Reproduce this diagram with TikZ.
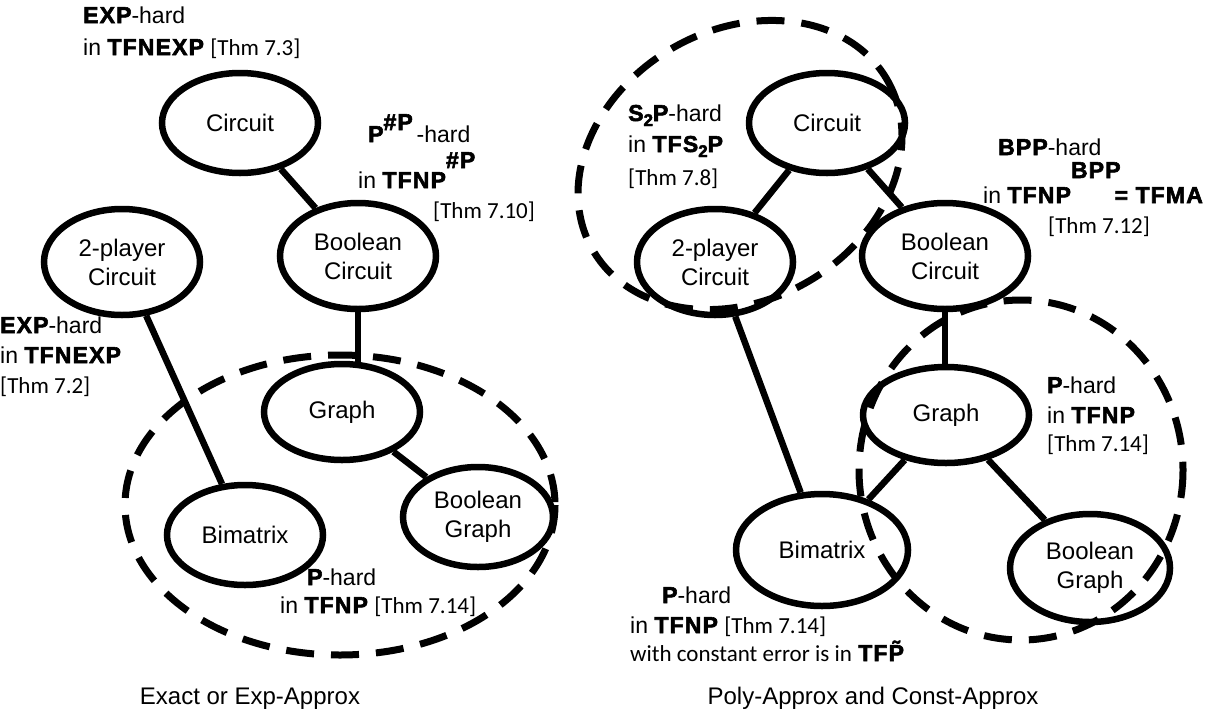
\documentclass[tikz,border=0pt]{standalone}
\usepackage{fontspec}
\setmainfont{Liberation Sans}
\newfontfamily\blk[FakeBold=2.5,LetterSpace=5]{Liberation Sans Bold}
\newfontfamily\thmf{Carlito}
\usetikzlibrary{shapes.geometric,backgrounds}
\newcommand\B[1]{{\blk #1}}
\newcommand\sbtwo{\raisebox{-5pt}{\fontsize{17}{17}\selectfont\blk 2}}
\tikzset{
 ell/.style={ellipse, draw, line width=6.5, fill=white, inner sep=0, align=center, font=\fontsize{24}{29}\selectfont},
 conn/.style={line width=6.5},
 dell/.style={line width=7, dash pattern=on 28 off 17},
 lab/.style={anchor=base west, inner sep=0, font=\fontsize{23}{29}\selectfont},
 captxt/.style={anchor=base, inner sep=0, font=\fontsize{24}{29}\selectfont},
}
\begin{document}
\begin{tikzpicture}[x=1pt,y=-1pt]
\useasboundingbox (0,0) rectangle (1230,715);
% left nodes
\node[ell, minimum width=156, minimum height=100] (lc) at (240,123) {Circuit};
\node[ell, minimum width=156, minimum height=106] (l2p) at (122,262) {2-player\\Circuit};
\node[ell, minimum width=156, minimum height=106] (lbc) at (358,256) {Boolean\\Circuit};
\node[ell, minimum width=156, minimum height=96] (lg) at (342,412) {Graph};
\node[ell, minimum width=156, minimum height=100] (lbm) at (245,535) {Bimatrix};
\node[ell, minimum width=150, minimum height=100] (lbg) at (478,517) {Boolean\\Graph};
% right nodes
\node[ell, minimum width=156, minimum height=100] (rc) at (827,123) {Circuit};
\node[ell, minimum width=156, minimum height=106] (r2p) at (715,262) {2-player\\Circuit};
\node[ell, minimum width=166, minimum height=106] (rbc) at (945,256) {Boolean\\Circuit};
\node[ell, minimum width=166, minimum height=96] (rg) at (946,415) {Graph};
\node[ell, minimum width=172, minimum height=112] (rbm) at (822,550) {Bimatrix};
\node[ell, minimum width=160, minimum height=108] (rbg) at (1090,568) {Boolean\\Graph};
% connectors
\begin{scope}[on background layer]
\draw[conn] (lc) -- (lbc);
\draw[conn] (lbc.center) -- (lbc.center |- lg.center);
\draw[conn] (l2p) -- (lbm);
\draw[conn] (lg) -- (lbg);
\draw[conn] (rc) -- (r2p);
\draw[conn] (rc) -- (rbc);
\draw[conn] (rbc.center) -- (rbc.center |- rg.center);
\draw[conn] (r2p) -- (rbm);
\draw[conn] (rg) -- (rbm);
\draw[conn] (rg) -- (rbg);
\end{scope}
% dashed groups
\draw[dell] (340,505) ellipse [x radius=215, y radius=150];
\draw[dell, rotate around={30:(740,165)}] (740,165) ellipse [x radius=170, y radius=135];
\draw[dell] (1021,470) ellipse [x radius=162, y radius=170];
% left labels
\node[lab] (t1) at (83,23) {\B{EXP}-hard};
\node[lab] (t2) at (83,55) {in \B{TFNEXP} {\thmf [Thm 7.3]}};
\node[lab] (t3) at (368,142) {\B{P}\raisebox{12pt}{\B{\#P}}\,-hard};
\node[lab] (t4) at (358,188) {in \B{TFNP}\raisebox{20pt}{\B{\#P}}};
\node[lab] (t5) at (433,218) {\thmf [Thm 7.10]};
\node[lab] (t6) at (0,333) {\B{EXP}-hard};
\node[lab] (t7) at (0,363) {in \B{TFNEXP}};
\node[lab] (t8) at (0,393) {\thmf [Thm 7.2]};
\node[lab] (t9) at (307,585) {\B{P}-hard};
\node[lab] (t10) at (280,613) {in \B{TFNP} {\thmf [Thm 7.14]}};
% right labels
\node[lab] (u1) at (628,121) {\B{S\sbtwo P}-hard};
\node[lab] (u2) at (628,152) {in \B{TFS\sbtwo P}};
\node[lab] (u3) at (628,185) {\thmf [Thm 7.8]};
\node[lab] (u4) at (998,155) {\B{BPP}-hard};
\node[lab] (u5) at (983,203) {in \B{TFNP}\raisebox{25pt}{\B{BPP}}\hspace{-6pt}\B{= TFMA}};
\node[lab] (u6) at (1048,233) {\thmf [Thm 7.12]};
\node[lab] (u7) at (1047,393) {\B{P}-hard};
\node[lab] (u8) at (1047,423) {in \B{TFNP}};
\node[lab] (u9) at (1047,451) {\thmf [Thm 7.14]};
\node[lab] (u10) at (662,603) {\B{P}-hard};
\node[lab] (u11) at (630,633) {in \B{TFNP} {\thmf [Thm 7.14]}};
\node[lab] (u12) at (630,661) {{\thmf with constant error is in} \B{TF\~{P}}};
% captions
\node[captxt] (c1) at (250,704) {Exact or Exp-Approx};
\node[captxt] (c2) at (873,704) {Poly-Approx and Const-Approx};
\end{tikzpicture}
\end{document}
